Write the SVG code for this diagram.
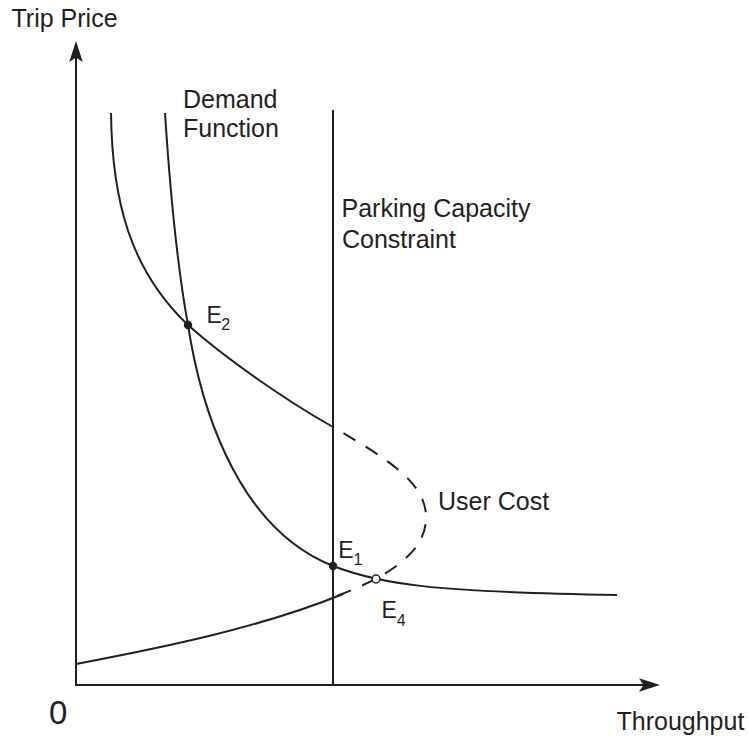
<svg xmlns="http://www.w3.org/2000/svg" width="749" height="740" viewBox="0 0 749 740">
<style>
.ln{fill:none;stroke:#231f20;stroke-width:2;stroke-linecap:butt}
.ds{fill:none;stroke:#231f20;stroke-width:2;stroke-dasharray:14 12;stroke-dashoffset:14}
.t{font-family:"Liberation Sans",Arial,Helvetica,sans-serif;font-size:25px;fill:#231f20}
.e{font-family:"Liberation Sans",Arial,Helvetica,sans-serif;font-size:23px;fill:#231f20}
.s{font-size:16px}
.ah{fill:#231f20;stroke:none}
</style>
<rect width="749" height="740" fill="#ffffff"/>
<g id="axes">
<path class="ln" d="M76,686 V56"/>
<path class="ah" d="M76,41 L82.8,62 L76,57.5 L69.2,62 Z"/>
<path class="ln" d="M75,685 H646"/>
<path class="ah" d="M660,685 L639,678.3 L643.5,685 L639,691.7 Z"/>
<text class="t" x="11.5" y="27">Trip Price</text>
<text class="t" x="616.5" y="730">Throughput</text>
<text class="t" x="49" y="723.5" style="font-size:33px">0</text>
</g>
<g id="connectors">
<path id="capacity" class="ln" d="M333,110 V685"/>
<path id="user-cost-upper" class="ln" d="M111,113 C112,200 130,270 188,325 C225,358 285,400 333,427"/>
<path id="user-cost-dashed" class="ds" d="M333,427 C385,458 428,482 426,520 C424,555 385,578 334,597"/>
<path id="user-cost-lower" class="ln" d="M76,664 C160,648 260,628 343,594"/>
<path id="demand" class="ln" d="M165,113 C170,190 178,270 188,325 C198,390 230,525 333,566 C380,584 430,592 617,595"/>
</g>
<g id="label-demand">
<text class="t" x="183" y="108">Demand</text>
<text class="t" x="183" y="137">Function</text>
</g>
<g id="label-capacity">
<text class="t" x="341.5" y="217">Parking Capacity</text>
<text class="t" x="342" y="248">Constraint</text>
</g>
<g id="label-user-cost">
<text class="t" x="438" y="510">User Cost</text>
</g>
<g id="E2">
<circle cx="188" cy="325" r="4.2" fill="#231f20"/>
<text class="e" x="206.5" y="323">E<tspan class="s" dx="-0.5" dy="7">2</tspan></text>
</g>
<g id="E1">
<circle cx="333" cy="566" r="4.2" fill="#231f20"/>
<text class="e" x="338.2" y="558">E<tspan class="s" dx="0" dy="7">1</tspan></text>
</g>
<g id="E4">
<circle cx="376" cy="579" r="4" fill="#ffffff" stroke="#231f20" stroke-width="1.5"/>
<text class="e" x="381.5" y="618">E<tspan class="s" dx="0" dy="7.5">4</tspan></text>
</g>
</svg>
